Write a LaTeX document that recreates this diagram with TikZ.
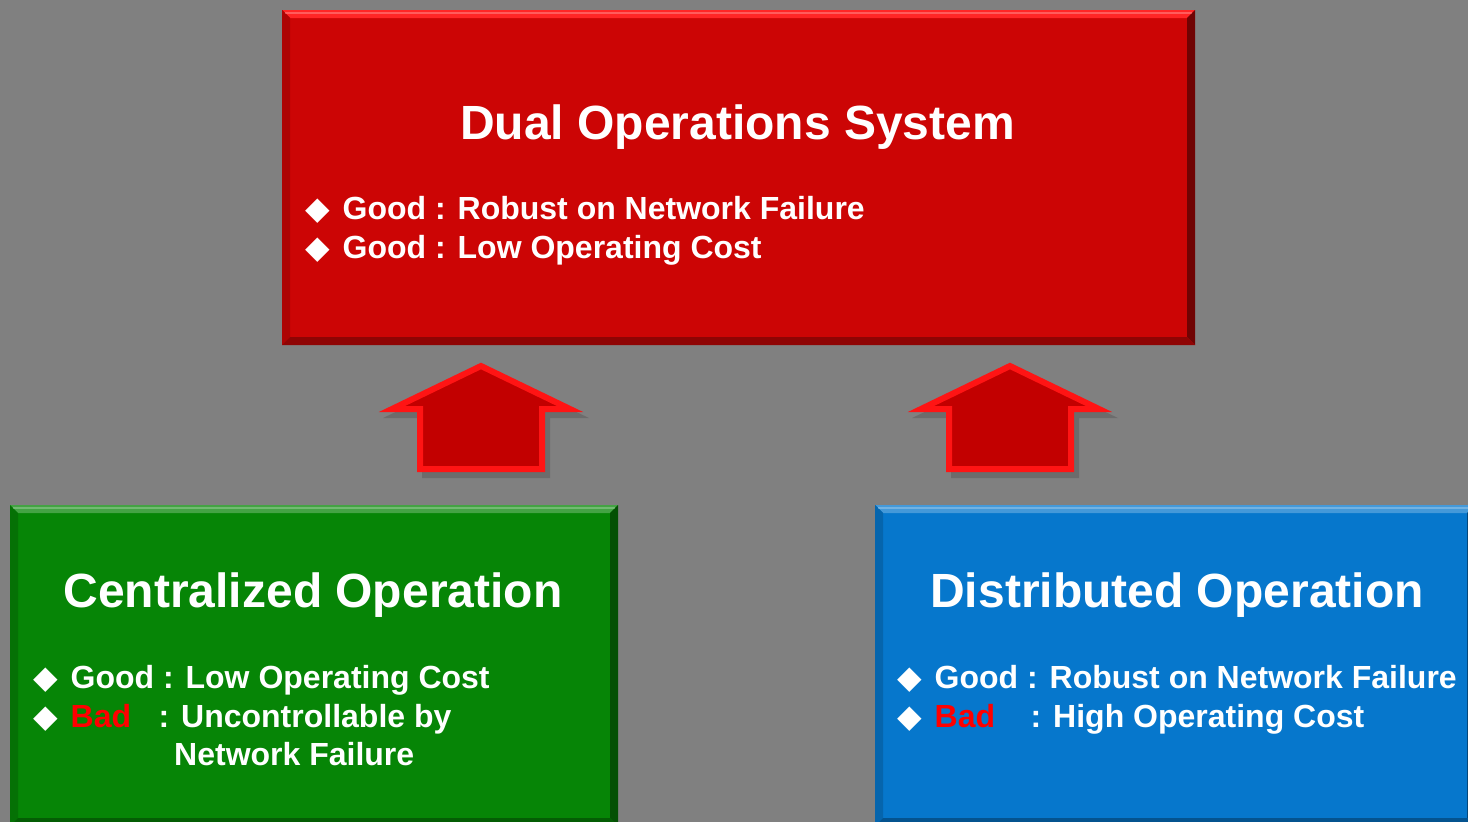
\documentclass[tikz,border=0pt]{standalone}
\usepackage{fontspec}
\setmainfont{Liberation Sans}
\newfontfamily\symfont{DejaVu Sans}
\usetikzlibrary{calc}

\definecolor{bggrey}{HTML}{808080}
\definecolor{dualred}{HTML}{CC0505}
\definecolor{centgreen}{HTML}{068506}
\definecolor{distblue}{HTML}{0677CC}
\definecolor{badred}{HTML}{FF0000}
\definecolor{arrowfill}{HTML}{C20000}
\definecolor{arrowline}{HTML}{FF1414}

% bevelled edge of a box: node, top, left, right, bottom, width
\newcommand{\bevelbox}[6]{%
  \fill[#2] (#1.north west) -- (#1.north east) -- ($(#1.north east)+(-#6,#6)$) -- ($(#1.north west)+(#6,#6)$) -- cycle;
  \fill[#3] (#1.north west) -- ($(#1.north west)+(#6,#6)$) -- ($(#1.south west)+(#6,-#6)$) -- (#1.south west) -- cycle;
  \fill[#4] (#1.north east) -- ($(#1.north east)+(-#6,#6)$) -- ($(#1.south east)+(-#6,-#6)$) -- (#1.south east) -- cycle;
  \fill[#5] (#1.south west) -- ($(#1.south west)+(#6,-#6)$) -- ($(#1.south east)+(-#6,-#6)$) -- (#1.south east) -- cycle;
  \draw[white, opacity=.25, line width=2pt] ($(#1.north west)+(3,3)$) -- ($(#1.north east)+(-3,3)$);
}

% block arrow pointing up, centred on x = #1
\newcommand{\uparr}[1]{%
  \begin{scope}[xshift=#1pt]
    \fill[black, opacity=.15, xshift=5pt, yshift=-6pt] (0,363) -- (103,412) -- (64,412) -- (64,472) -- (-64,472) -- (-64,412) -- (-103,412) -- cycle;
    \draw[uparrow] (0,366) -- (89,409) -- (61,409) -- (61,469) -- (-61,469) -- (-61,409) -- (-89,409) -- cycle;
  \end{scope}}

\newcommand{\bul}{{\symfont\makebox[37.5pt][l]{◆}}}

\begin{document}
\begin{tikzpicture}[x=1pt, y=-1pt,
    box/.style={rectangle, inner sep=0, outer sep=0},
    ttl/.style={text=white, font=\bfseries\fontsize{48}{58}\selectfont, anchor=base, inner sep=0},
    item/.style={text=white, font=\bfseries\fontsize{32}{38}\selectfont, anchor=base west, inner sep=0},
    uparrow/.style={fill=arrowfill, draw=arrowline, line width=6pt, line join=miter}
]
\useasboundingbox (0,0) rectangle (1468,822);

% Fondo
\fill[bggrey] (0,0) rectangle (1468,822);

% Cajas
\node[box, fill=dualred, minimum width=913pt, minimum height=335pt] (dual) at (738.5,177.5) {};
\bevelbox{dual}{red!85!white}{dualred!85!black}{dualred!55!black}{dualred!70!black}{8}

\node[box, fill=centgreen, minimum width=608pt, minimum height=321pt] (central) at (314,665.5) {};
\bevelbox{central}{centgreen!75!white}{centgreen!85!black}{centgreen!60!black}{centgreen!70!black}{8}

\node[box, fill=distblue, minimum width=600pt, minimum height=321pt] (distrib) at (1175,665.5) {};
\bevelbox{distrib}{distblue!75!white}{distblue!85!black}{distblue!60!black}{distblue!70!black}{8}

% Flechas
\uparr{481}
\uparr{1010}

% Textos: sistema dual
\node[ttl] (dualT) at (737.5,139) {Dual Operations System};
\node[item] (dualA) at (305,219) {\bul Good : Robust on Network Failure};
\node[item] (dualB) at (305,258) {\bul Good : Low Operating Cost};

% Textos: centralizada
\node[ttl] (centT) at (313,607) {Centralized Operation};
\node[item] (centA) at (33,688) {\bul Good : Low Operating Cost};
\node[item] (centB) at (33,727) {\bul\makebox[88pt][l]{\color{badred}Bad}: Uncontrollable by};
\node[item] (centC) at (174,765) {Network Failure};

% Textos: distribuida
\node[ttl] (distT) at (1177,607) {Distributed Operation};
\node[item] (distA) at (897,688) {\bul Good : Robust on Network Failure};
\node[item] (distB) at (897,727) {\bul\makebox[96pt][l]{\color{badred}Bad}: High Operating Cost};
\end{tikzpicture}
\end{document}
